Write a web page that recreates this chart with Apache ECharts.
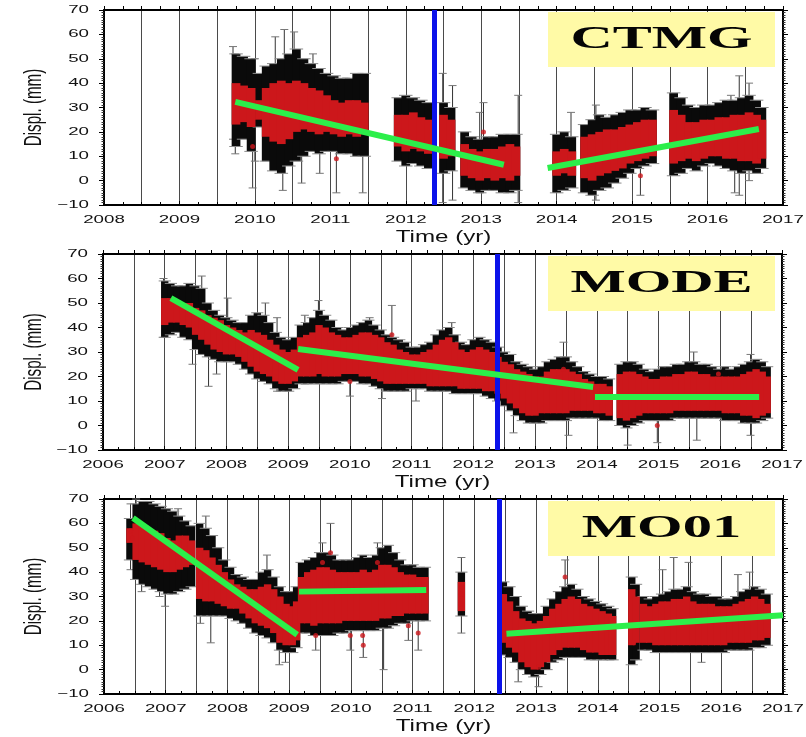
<!DOCTYPE html>
<html>
<head>
  <meta charset="utf-8">
</head>
<body style="margin: 0; background: #fff">
  <div id="container" style="width: 806px; height: 737px"></div>

  <script type="text/javascript" src="https://fastly.jsdelivr.net/npm/echarts@6/dist/echarts.min.js"></script>
  <script type="text/javascript">
    // --- data ----------------------------------------------------------
    // bins: [time, error-bar low, red low, red high, error-bar high] (mm)
    var ctmgBins = [
      [2009.75, 14, 23, 40, 52], [2009.85, 17, 24, 39, 51], [2009.95, 12, 22, 38, 50],
      [2010.06, 22, 25, 33, 44], [2010.15, 8, 18, 38, 47], [2010.25, 4, 16, 40, 48],
      [2010.35, 3, 15, 41, 50], [2010.45, 6, 17, 40, 52], [2010.55, 8, 20, 41, 54],
      [2010.65, 10, 21, 40, 50], [2010.75, 12, 20, 38, 48], [2010.85, 11, 19, 37, 46],
      [2010.95, 12, 20, 35, 44], [2011.05, 12, 19, 33, 43], [2011.15, 11, 18, 32, 42],
      [2011.25, 11, 19, 33, 42], [2011.35, 10, 18, 33, 44], [2011.45, 10, 19, 32, 44],
      [2011.9, 8, 14, 27, 34], [2012.0, 6, 12, 27, 35], [2012.1, 7, 13, 28, 34],
      [2012.2, 6, 12, 26, 33], [2012.3, 5, 11, 25, 32], [2012.5, 3, 9, 27, 32],
      [2012.6, 4, 10, 25, 30], [2012.78, -3, 2, 15, 20], [2012.88, -4, 1, 13, 18],
      [2012.98, -5, 0, 12, 17], [2013.08, -4, 1, 13, 18], [2013.18, -4, 0, 13, 18],
      [2013.28, -5, 1, 14, 19], [2013.38, -5, 0, 15, 19], [2013.46, -4, 2, 14, 19],
      [2014.0, -5, 2, 12, 19], [2014.1, -4, 3, 13, 20], [2014.2, -3, 2, 12, 18],
      [2014.37, -5, 1, 18, 23], [2014.47, -6, 0, 19, 25], [2014.57, -4, 2, 20, 27],
      [2014.67, -3, 3, 21, 26], [2014.77, -1, 4, 21, 27], [2014.87, 1, 5, 22, 28],
      [2014.97, 3, 7, 23, 29], [2015.07, 5, 8, 24, 29], [2015.17, 6, 9, 25, 30],
      [2015.27, 7, 10, 25, 29], [2015.55, 2, 7, 29, 36], [2015.65, 3, 8, 27, 34],
      [2015.75, 5, 9, 24, 31], [2015.85, 4, 8, 24, 30], [2015.95, 6, 9, 25, 31],
      [2016.05, 7, 10, 25, 31], [2016.15, 6, 10, 26, 32], [2016.25, 5, 9, 26, 33],
      [2016.35, 4, 9, 27, 33], [2016.45, 3, 8, 27, 34], [2016.55, 4, 8, 28, 35],
      [2016.65, 3, 7, 27, 33], [2016.72, 5, 9, 25, 30]
    ];
    var modeBins = [
      [2007.0, 36, 41, 52, 59], [2007.1, 37, 42, 52, 58], [2007.2, 38, 42, 51, 57],
      [2007.3, 36, 41, 50, 57], [2007.4, 35, 40, 50, 58], [2007.5, 31, 37, 48, 57],
      [2007.6, 29, 35, 47, 56], [2007.7, 28, 33, 45, 50], [2007.8, 27, 31, 44, 47],
      [2007.9, 26, 30, 43, 45], [2008.0, 26, 29, 41, 44], [2008.1, 26, 29, 40, 43],
      [2008.2, 25, 28, 39, 42], [2008.3, 23, 26, 38, 42], [2008.4, 21, 24, 39, 45],
      [2008.5, 19, 22, 38, 46], [2008.6, 18, 21, 37, 45], [2008.7, 17, 20, 35, 42],
      [2008.8, 15, 18, 33, 38], [2008.9, 14, 17, 31, 36], [2009.0, 14, 17, 30, 35],
      [2009.1, 15, 18, 31, 36], [2009.2, 17, 20, 36, 41], [2009.3, 17, 20, 37, 42],
      [2009.4, 17, 20, 38, 44], [2009.5, 17, 21, 41, 47], [2009.6, 17, 20, 40, 45],
      [2009.7, 17, 20, 38, 43], [2009.8, 17, 20, 37, 40], [2009.9, 18, 21, 36, 39],
      [2010.0, 18, 21, 36, 40], [2010.1, 18, 21, 37, 41], [2010.2, 17, 20, 38, 42],
      [2010.3, 17, 20, 38, 43], [2010.4, 16, 19, 37, 41], [2010.5, 15, 18, 36, 39],
      [2010.6, 14, 17, 34, 37], [2010.7, 14, 17, 33, 36], [2010.8, 14, 17, 31, 35],
      [2010.9, 14, 17, 30, 34], [2011.0, 15, 17, 29, 32], [2011.1, 15, 17, 29, 32],
      [2011.2, 15, 17, 30, 33], [2011.3, 14, 16, 31, 34], [2011.4, 14, 16, 33, 37],
      [2011.5, 14, 16, 35, 39], [2011.6, 14, 16, 36, 40], [2011.7, 13, 16, 34, 37],
      [2011.8, 13, 15, 31, 34], [2011.9, 13, 15, 30, 33], [2012.0, 13, 15, 31, 35],
      [2012.1, 13, 15, 32, 36], [2012.2, 12, 14, 31, 35], [2012.3, 11, 14, 30, 34],
      [2012.4, 10, 13, 28, 32], [2012.5, 8, 11, 26, 30], [2012.6, 6, 9, 25, 29],
      [2012.7, 4, 7, 23, 26], [2012.8, 2, 5, 22, 25], [2012.9, 1, 4, 21, 24],
      [2013.0, 1, 4, 20, 23], [2013.1, 1, 5, 20, 24], [2013.2, 2, 5, 22, 26],
      [2013.3, 2, 5, 23, 27], [2013.4, 2, 5, 23, 28], [2013.5, 2, 5, 23, 28],
      [2013.6, 3, 6, 22, 26], [2013.7, 3, 6, 21, 24], [2013.8, 3, 6, 19, 22],
      [2013.9, 3, 6, 18, 21], [2014.0, 3, 5, 17, 20], [2014.1, 2, 5, 17, 20],
      [2014.2, 2, 4, 16, 19], [2014.38, 0, 3, 21, 25], [2014.48, -1, 2, 22, 26],
      [2014.58, 0, 3, 22, 26], [2014.68, 1, 4, 21, 25], [2014.78, 2, 5, 20, 23],
      [2014.88, 2, 5, 19, 22], [2014.98, 2, 5, 19, 23], [2015.08, 2, 5, 20, 24],
      [2015.18, 2, 5, 20, 24], [2015.28, 3, 6, 21, 25], [2015.38, 3, 6, 21, 25],
      [2015.48, 3, 6, 22, 26], [2015.58, 3, 6, 22, 26], [2015.68, 3, 6, 21, 25],
      [2015.78, 3, 6, 21, 25], [2015.88, 3, 6, 20, 24], [2015.98, 3, 6, 20, 23],
      [2016.08, 2, 5, 20, 24], [2016.18, 2, 5, 20, 23], [2016.28, 2, 5, 20, 24],
      [2016.38, 1, 4, 21, 25], [2016.48, 1, 4, 22, 26], [2016.58, 1, 3, 23, 27],
      [2016.68, 2, 4, 22, 26], [2016.76, 3, 5, 20, 24]
    ];
    var mo01Bins = [
      [2006.42, 45, 52, 58, 62], [2006.52, 37, 45, 60, 68], [2006.62, 35, 44, 59, 69],
      [2006.72, 34, 43, 58, 69], [2006.82, 33, 42, 57, 68], [2006.92, 32, 41, 56, 67],
      [2007.02, 31, 40, 54, 66], [2007.12, 31, 40, 53, 65], [2007.22, 32, 41, 55, 63],
      [2007.32, 33, 42, 55, 61], [2007.42, 34, 43, 53, 59], [2007.55, 22, 29, 50, 60],
      [2007.65, 22, 28, 49, 58], [2007.75, 22, 28, 46, 55], [2007.85, 22, 27, 43, 50],
      [2007.95, 22, 26, 40, 45], [2008.05, 21, 25, 37, 42], [2008.15, 20, 25, 35, 39],
      [2008.25, 19, 23, 34, 38], [2008.35, 17, 21, 33, 37], [2008.45, 15, 19, 33, 37],
      [2008.55, 14, 18, 34, 40], [2008.65, 13, 17, 35, 41], [2008.75, 11, 15, 33, 38],
      [2008.85, 8, 11, 30, 34], [2008.95, 7, 10, 27, 32], [2009.05, 7, 10, 26, 32],
      [2009.12, 9, 12, 28, 34], [2009.2, 15, 19, 38, 44], [2009.3, 15, 19, 40, 45],
      [2009.4, 14, 18, 41, 46], [2009.5, 14, 19, 42, 48], [2009.6, 14, 19, 42, 48],
      [2009.7, 14, 19, 41, 47], [2009.8, 15, 19, 40, 45], [2009.9, 15, 20, 40, 45],
      [2010.0, 16, 20, 40, 45], [2010.1, 16, 20, 40, 46], [2010.2, 16, 20, 41, 47],
      [2010.3, 16, 20, 40, 46], [2010.4, 16, 20, 41, 47], [2010.5, 17, 21, 43, 50],
      [2010.6, 17, 21, 43, 51], [2010.7, 18, 22, 42, 48], [2010.8, 19, 22, 40, 45],
      [2010.9, 19, 23, 39, 43], [2011.0, 20, 23, 39, 43], [2011.1, 20, 23, 38, 42],
      [2011.2, 20, 23, 38, 42], [2011.79, 22, 24, 36, 40],
      [2012.47, 6, 11, 31, 36], [2012.57, 5, 9, 28, 34], [2012.67, 3, 7, 24, 30],
      [2012.77, 0, 3, 21, 26], [2012.87, -2, 1, 20, 24], [2012.97, -3, 0, 19, 23],
      [2013.07, -2, 1, 20, 23], [2013.17, 0, 3, 22, 26], [2013.27, 3, 6, 25, 29],
      [2013.37, 4, 8, 27, 32], [2013.47, 5, 9, 29, 34], [2013.57, 5, 9, 30, 35],
      [2013.67, 5, 9, 29, 33], [2013.77, 5, 8, 27, 30], [2013.87, 4, 7, 26, 29],
      [2013.97, 4, 7, 25, 28], [2014.07, 4, 6, 24, 27], [2014.17, 4, 6, 23, 26],
      [2014.24, 4, 6, 22, 25], [2014.55, 2, 10, 33, 38], [2014.62, 4, 11, 30, 35],
      [2014.74, 8, 11, 27, 30], [2014.84, 8, 11, 26, 29], [2014.94, 7, 10, 27, 30],
      [2015.04, 7, 10, 28, 31], [2015.14, 7, 10, 28, 32], [2015.24, 7, 10, 29, 33],
      [2015.34, 7, 10, 29, 33], [2015.44, 7, 10, 30, 34], [2015.54, 7, 10, 28, 32],
      [2015.64, 7, 10, 27, 31], [2015.74, 7, 10, 27, 31], [2015.84, 7, 10, 27, 30],
      [2015.94, 7, 10, 26, 30], [2016.04, 7, 10, 26, 29], [2016.14, 8, 11, 26, 29],
      [2016.24, 8, 11, 27, 30], [2016.34, 8, 11, 28, 32], [2016.44, 8, 11, 29, 33],
      [2016.54, 9, 12, 30, 34], [2016.64, 9, 12, 29, 33], [2016.74, 10, 13, 27, 31]
    ];

    // single long error bars: [time, low, high]
    var ctmgBars = [
      [2009.71, 17, 55], [2009.74, 11, 52], [2009.97, -3, 35], [2010.0, 8, 50],
      [2010.27, 20, 59], [2010.37, -4, 40], [2010.39, 25, 62], [2010.52, 25, 61],
      [2010.62, -1, 30], [2010.77, 20, 52], [2010.86, 3, 30], [2011.08, -5, 22],
      [2011.21, 15, 42], [2011.43, -5, 28], [2012.49, -9, 44], [2012.62, -8, 39],
      [2012.98, -5, 28], [2013.03, 0, 32], [2013.49, -9, 35], [2014.19, 0, 28],
      [2014.52, -8, 31], [2015.11, -6, 8], [2016.31, 5, 35], [2016.36, -5, 30],
      [2016.42, -6, 43], [2016.55, 0, 40]
    ];
    var modeBars = [
      [2006.98, 36, 60], [2007.45, 25, 50], [2007.6, 30, 61], [2007.71, 16, 45],
      [2007.84, 21, 40], [2008.02, 30, 52], [2008.63, 18, 50], [2008.82, 14, 44],
      [2009.27, 17, 45], [2009.49, 22, 51], [2010.0, 12, 28], [2010.32, 22, 44],
      [2010.52, 11, 30], [2010.68, 30, 49], [2011.07, 10, 28], [2011.65, 20, 42],
      [2012.65, -3, 20], [2013.46, 8, 34], [2013.54, -4, 15], [2014.5, -8, 10],
      [2014.98, -7, 6], [2015.57, 5, 30], [2015.62, -6, 10], [2016.49, -4, 29]
    ];
    var mo01Bars = [
      [2006.43, 41, 68], [2006.52, 45, 70], [2006.61, 32, 65], [2006.9, 30, 60],
      [2006.99, 26, 55], [2007.2, 40, 66], [2007.56, 19, 45], [2007.65, 40, 63],
      [2007.73, 11, 40], [2008.64, 20, 47], [2008.84, 2, 25], [2008.94, 3, 20],
      [2009.43, 8, 21], [2009.54, 36, 52], [2009.67, 38, 60], [2009.99, 8, 25],
      [2010.2, 5, 22], [2010.43, 35, 52], [2010.53, 0, 35], [2010.93, 12, 25],
      [2011.09, 8, 22], [2011.79, 15, 46], [2012.71, -5, 15], [2013.04, -7, 10],
      [2013.47, 32, 45], [2014.58, 4, 20], [2015.05, 20, 41], [2015.23, 20, 46],
      [2015.47, 20, 44], [2015.68, 3, 25], [2016.27, 20, 39], [2016.46, 15, 40]
    ];

    // stray red points: [time, mm]
    var ctmgDots = [[2009.97, 14], [2011.08, 9], [2013.03, 20], [2015.11, 2]];
    var modeDots = [[2010.0, 18], [2010.68, 37], [2013.46, 23], [2014.98, 0], [2015.97, 21]];
    var mo01Dots = [
      [2006.43, 57], [2006.46, 54], [2009.43, 14], [2009.54, 44], [2009.67, 48],
      [2009.99, 14], [2010.19, 14], [2010.2, 10], [2010.43, 44], [2010.93, 18],
      [2011.09, 15], [2011.78, 27], [2011.79, 31], [2011.8, 34], [2013.04, 1],
      [2013.47, 38], [2014.58, 11]
    ];

    // fitted trends: [t0, mm0, t1, mm1]
    var ctmgTrend = [[2009.74, 32.3, 2013.3, 6.5], [2013.88, 5.2, 2016.68, 21.2]];
    var modeTrend = [[2007.1, 52, 2009.16, 22.7], [2009.16, 31.2, 2013.94, 15.7], [2013.97, 11.6, 2016.63, 11.6]];
    var mo01Trend = [[2006.47, 62.2, 2009.13, 14.3], [2009.16, 32, 2011.22, 32.7], [2012.52, 14.7, 2017.0, 22.3]];

    var stations = ['CTMG', 'MODE', 'MO01'];
    var eventTimes = [2012.38, 2012.39, 2012.4];
    var xRanges = [[2008, 2017], [2006, 2017], [2006, 2017]];
    var yTicks = [-10, 0, 10, 20, 30, 40, 50, 60, 70];

    // --- layout --------------------------------------------------------
    var grids = [
      { left: 104, top: 10, width: 679, height: 195 },
      { left: 103, top: 254, width: 679, height: 196 },
      { left: 104, top: 499, width: 679, height: 195 }
    ];
    var panels = [
      { bins: ctmgBins, bars: ctmgBars, dots: ctmgDots, trend: ctmgTrend },
      { bins: modeBins, bars: modeBars, dots: modeDots, trend: modeTrend },
      { bins: mo01Bins, bars: mo01Bars, dots: mo01Dots, trend: mo01Trend }
    ];

    var RED = '#cc171b';
    var GREEN = '#2cef4a';
    var BLUE = '#0b12ea';

    // black error-bar envelope of one bin, with grey caps at the ends
    function renderEnvelope(params, api) {
      var t = api.value(0);
      var lo = api.coord([t, api.value(1)]);
      var hi = api.coord([t, api.value(4)]);
      var w = api.size([0.1, 0])[0];
      var x = lo[0];
      return {
        type: 'group',
        children: [
          { type: 'rect', shape: { x: x - w / 2 - 0.6, y: hi[1], width: w + 1.2, height: lo[1] - hi[1] },
            style: { fill: '#0a0a0a' } },
          { type: 'line', shape: { x1: x - w / 2 - 3, y1: hi[1], x2: x + w / 2 + 3, y2: hi[1] },
            style: { stroke: '#8a8a8a', lineWidth: 1 } },
          { type: 'line', shape: { x1: x - w / 2 - 3, y1: lo[1], x2: x + w / 2 + 3, y2: lo[1] },
            style: { stroke: '#8a8a8a', lineWidth: 1 } }
        ]
      };
    }

    // red spread of the daily positions in one bin
    function renderSpread(params, api) {
      var t = api.value(0);
      var rlo = api.coord([t, api.value(2)]);
      var rhi = api.coord([t, api.value(3)]);
      var w = api.size([0.1, 0])[0];
      return {
        type: 'rect',
        shape: { x: rlo[0] - w / 2 - 0.6, y: rhi[1], width: w + 1.2, height: rlo[1] - rhi[1] },
        style: { fill: RED }
      };
    }

    function renderBar(params, api) {
      var t = api.value(0);
      var lo = api.coord([t, api.value(1)]);
      var hi = api.coord([t, api.value(2)]);
      return {
        type: 'group',
        children: [
          { type: 'line', shape: { x1: lo[0], y1: lo[1], x2: hi[0], y2: hi[1] },
            style: { stroke: '#333', lineWidth: 1 } },
          { type: 'line', shape: { x1: lo[0] - 4, y1: lo[1], x2: lo[0] + 4, y2: lo[1] },
            style: { stroke: '#777', lineWidth: 1 } },
          { type: 'line', shape: { x1: hi[0] - 4, y1: hi[1], x2: hi[0] + 4, y2: hi[1] },
            style: { stroke: '#777', lineWidth: 1 } }
        ]
      };
    }

    var option = {
      animation: false,
      backgroundColor: '#fff',
      grid: [],
      xAxis: [],
      yAxis: [],
      series: []
    };

    panels.forEach(function (p, i) {
      var g = grids[i];
      option.grid.push({
        left: g.left, top: g.top, width: g.width, height: g.height,
        containLabel: false, outerBoundsMode: 'none'
      });
      // bottom axis: yearly ticks, quarter-year minor ticks pointing in
      option.xAxis.push({
        type: 'value', gridIndex: i, position: 'bottom',
        min: xRanges[i][0], max: xRanges[i][1], interval: 1,
        axisLine: { show: true, onZero: false, lineStyle: { color: '#000', width: 2 } },
        axisTick: { show: true, inside: true, length: 4, lineStyle: { color: '#000' } },
        minorTick: { show: true, splitNumber: 4, length: 3, lineStyle: { color: '#000' } },
        axisLabel: { show: false },
        splitLine: { show: false }
      });
      // top axis: half-year grid lines
      option.xAxis.push({
        type: 'value', gridIndex: i, position: 'top',
        min: xRanges[i][0], max: xRanges[i][1], interval: 0.5,
        axisLine: { show: true, onZero: false, lineStyle: { color: '#000', width: 2 } },
        axisTick: { show: true, length: 4, lineStyle: { color: '#000' } },
        minorTick: { show: true, splitNumber: 2, length: 4, lineStyle: { color: '#000' } },
        axisLabel: { show: false },
        splitLine: { show: true, lineStyle: { color: '#4a4a4a', width: 1 } }
      });
      ['left', 'right'].forEach(function (pos) {
        option.yAxis.push({
          type: 'value', gridIndex: i, position: pos,
          min: -10, max: 70, interval: 10,
          axisLine: { show: true, onZero: false, lineStyle: { color: '#000', width: 2 } },
          axisTick: { show: true, length: 5, lineStyle: { color: '#000' } },
          minorTick: { show: true, splitNumber: 10, length: 2.5, lineStyle: { color: '#333' } },
          axisLabel: { show: false },
          splitLine: { show: false }
        });
      });

      var xi = 2 * i, yi = 2 * i;
      option.series.push({
        type: 'custom', xAxisIndex: xi, yAxisIndex: yi, z: 2,
        renderItem: renderBar, data: p.bars, silent: true
      });
      option.series.push({
        type: 'custom', xAxisIndex: xi, yAxisIndex: yi, z: 3,
        renderItem: renderEnvelope, data: p.bins, silent: true
      });
      option.series.push({
        type: 'custom', xAxisIndex: xi, yAxisIndex: yi, z: 4,
        renderItem: renderSpread, data: p.bins, silent: true
      });
      option.series.push({
        type: 'scatter', xAxisIndex: xi, yAxisIndex: yi, z: 5,
        symbolSize: 5, itemStyle: { color: RED }, data: p.dots, silent: true,
        markLine: {
          silent: true, symbol: ['none', 'none'], label: { show: false },
          lineStyle: { color: BLUE, width: 5, type: 'solid' },
          data: [{ xAxis: eventTimes[i] }]
        }
      });
      p.trend.forEach(function (s) {
        option.series.push({
          type: 'line', xAxisIndex: xi, yAxisIndex: yi, z: 6,
          symbol: 'none', silent: true,
          lineStyle: { color: GREEN, width: 6 },
          data: [[s[0], s[1]], [s[2], s[3]]]
        });
      });
    });

    var chart = echarts.init(document.getElementById('container'), null, { renderer: 'canvas' });
    chart.setOption(option);

    // GMT-style stretched labels, placed through the axes
    var graphics = [];
    var tickFont = '11px "Liberation Sans", Arial, sans-serif';
    panels.forEach(function (p, i) {
      var finder = { xAxisIndex: 2 * i, yAxisIndex: 2 * i };
      var x0 = xRanges[i][0], x1 = xRanges[i][1];
      yTicks.forEach(function (v) {
        var pt = chart.convertToPixel(finder, [x0, v]);
        graphics.push({
          type: 'text', x: pt[0] - 15, y: pt[1], scaleX: 1.7, silent: true,
          style: { text: v < 0 ? '\u2212' + Math.abs(v) : String(v), font: tickFont, fill: '#111',
            align: 'right', textAlign: 'right', verticalAlign: 'middle', textVerticalAlign: 'middle' }
        });
      });
      for (var yr = x0; yr <= x1; yr++) {
        var pt = chart.convertToPixel(finder, [yr, -10]);
        graphics.push({
          type: 'text', x: pt[0], y: pt[1] + 15, scaleX: 1.7, silent: true,
          style: { text: String(yr), font: tickFont, fill: '#111',
            align: 'center', textAlign: 'center', verticalAlign: 'middle', textVerticalAlign: 'middle' }
        });
      }
      var bl = chart.convertToPixel(finder, [x0, -10]);
      var tr = chart.convertToPixel(finder, [x1, 70]);
      var cx = (bl[0] + tr[0]) / 2;
      var cy = (bl[1] + tr[1]) / 2;
      graphics.push({
        type: 'text', x: cx, y: bl[1] + 32, scaleX: 1.42, silent: true,
        style: { text: 'Time (yr)', font: '17px "Liberation Sans", Arial, sans-serif', fill: '#111',
          align: 'center', textAlign: 'center', verticalAlign: 'middle', textVerticalAlign: 'middle' }
      });
      graphics.push({
        type: 'text', x: 35, y: cy, rotation: Math.PI / 2, scaleX: 0.66, silent: true,
        style: { text: 'Displ. (mm)', font: '23px "Liberation Sans", Arial, sans-serif', fill: '#111',
          align: 'center', textAlign: 'center', verticalAlign: 'middle', textVerticalAlign: 'middle' }
      });
      // station name box
      graphics.push({
        type: 'rect', silent: true, z: 100,
        shape: { x: 548, y: tr[1] + 2, width: 227, height: 55 },
        style: { fill: '#fffaa6' }
      });
      graphics.push({
        type: 'text', x: 661.5, y: tr[1] + 30, scaleX: 1.83, silent: true, z: 101,
        style: { text: stations[i], font: 'bold 32px "Liberation Serif", "Times New Roman", serif', fill: '#050505',
          align: 'center', textAlign: 'center', verticalAlign: 'middle', textVerticalAlign: 'middle' }
      });
    });
    chart.setOption({ graphic: graphics });

    window.addEventListener('resize', chart.resize);
  </script>
</body>
</html>
